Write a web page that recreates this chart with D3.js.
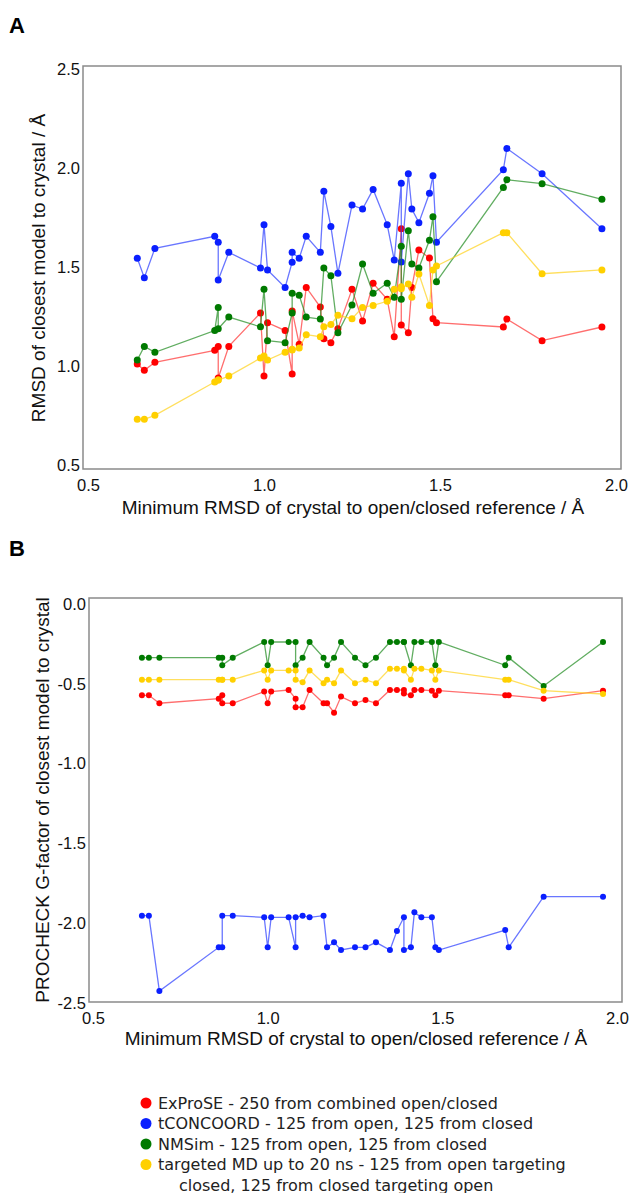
<!DOCTYPE html>
<html>
<head>
<meta charset="utf-8">
<script src="https://cdn.jsdelivr.net/npm/d3@7"></script>
<style>
  body { margin: 0; background: #fff; }
  #container { width: 630px; height: 1193px; }
</style>
</head>
<body>
<div id="container"></div>
<script>
//### DATA ###
//>>> Minimum RMSD of each crystal to the open/closed reference (shared x values)
const crystalRmsd = [ 0.64, 0.66, 0.69, 0.86, 0.87, 0.87, 0.90, 0.99, 1.00, 1.01, 1.06, 1.08, 1.08, 1.10, 1.12, 1.16, 1.17, 1.19,
  1.21, 1.25, 1.28, 1.31, 1.35, 1.37, 1.39, 1.39, 1.41, 1.42, 1.44, 1.47, 1.48, 1.49, 1.68, 1.69, 1.79, 1.96 ];

//>>> Panel A: RMSD of closest model to crystal
const rmsdExprose = [ 1.010, 0.978, 1.019, 1.079, 1.099, 0.939, 1.099, 1.268, 0.949, 1.219, 1.179, 0.960, 1.278, 1.110, 1.397, 1.298, 1.138, 1.118,
  1.188, 1.387, 1.227, 1.418, 1.337, 1.148, 1.693, 1.207, 1.168, 1.397, 1.586, 1.545, 1.239, 1.219, 1.197, 1.237, 1.128, 1.197 ];
const rmsdTconcoord = [ 1.544, 1.446, 1.594, 1.655, 1.625, 1.434, 1.574, 1.495, 1.714, 1.485, 1.397, 1.524, 1.574, 1.544, 1.655, 1.574, 1.882, 1.704,
  1.468, 1.813, 1.793, 1.892, 1.714, 1.535, 1.923, 1.525, 1.971, 1.793, 1.724, 1.872, 1.961, 1.625, 1.991, 2.099, 1.971, 1.693 ];
const rmsdNmsim = [ 1.030, 1.099, 1.069, 1.179, 1.296, 1.188, 1.247, 1.198, 1.387, 1.128, 1.118, 1.268, 1.367, 1.357, 1.247, 1.237, 1.495, 1.456,
  1.168, 1.308, 1.515, 1.367, 1.418, 1.347, 1.605, 1.337, 1.683, 1.515, 1.495, 1.635, 1.754, 1.426, 1.902, 1.941, 1.921, 1.842 ];
const rmsdTargetedMd = [ 0.731, 0.731, 0.751, 0.919, 0.929, 0.929, 0.949, 1.040, 1.050, 1.030, 1.070, 1.081, 1.085, 1.091, 1.158, 1.148, 1.198, 1.209,
  1.256, 1.239, 1.296, 1.306, 1.327, 1.387, 1.400, 1.390, 1.414, 1.347, 1.465, 1.306, 1.485, 1.505, 1.673, 1.673, 1.466, 1.485 ];

//>>> Panel B: PROCHECK G-factor of closest model to crystal
const gExprose = [ -0.572, -0.572, -0.622, -0.593, -0.572, -0.622, -0.622, -0.549, -0.622, -0.549, -0.539, -0.593, -0.647, -0.647, -0.539, -0.622, -0.622, -0.681,
  -0.580, -0.622, -0.601, -0.622, -0.539, -0.539, -0.539, -0.560, -0.572, -0.539, -0.539, -0.543, -0.572, -0.543, -0.572, -0.572, -0.593, -0.543 ];
const gTconcoord = [ -1.953, -1.953, -2.425, -2.151, -2.151, -1.953, -1.953, -1.963, -2.151, -1.963, -1.963, -2.151, -1.963, -1.953, -1.963, -1.953, -2.151, -2.120,
  -2.168, -2.151, -2.151, -2.120, -2.168, -2.049, -1.963, -2.168, -2.151, -1.932, -1.963, -1.963, -2.151, -2.168, -2.043, -2.151, -1.834, -1.834 ];
const gNmsim = [ -0.336, -0.336, -0.336, -0.336, -0.336, -0.384, -0.336, -0.238, -0.384, -0.238, -0.238, -0.238, -0.384, -0.336, -0.238, -0.336, -0.384, -0.336,
  -0.238, -0.336, -0.384, -0.336, -0.238, -0.238, -0.238, -0.238, -0.384, -0.238, -0.238, -0.238, -0.384, -0.238, -0.384, -0.336, -0.514, -0.238 ];
const gTargetedMd = [ -0.474, -0.474, -0.474, -0.474, -0.474, -0.474, -0.474, -0.416, -0.474, -0.416, -0.416, -0.416, -0.474, -0.491, -0.416, -0.497, -0.474, -0.497,
  -0.416, -0.497, -0.474, -0.497, -0.405, -0.405, -0.405, -0.416, -0.474, -0.405, -0.405, -0.416, -0.474, -0.416, -0.474, -0.474, -0.543, -0.564 ];

//>>> Ticks and labels
const xTicks = [ 0.5, 1.0, 1.5, 2.0 ];
const yTicksA = [ 0.5, 1.0, 1.5, 2.0, 2.5 ];
const yTicksB = [ 0.0, -0.5, -1.0, -1.5, -2.0, -2.5 ];
const methodNames = [ 'ExProSE - 250 from combined open/closed', 'tCONCOORD - 125 from open, 125 from closed',
  'NMSim - 125 from open, 125 from closed', 'targeted MD up to 20 ns - 125 from open targeting' ];
const legendExtraLine = 'closed, 125 from closed targeting open';


//_____ STYLING _____
const lineColors = [ '#ff3030', '#2a3cff', '#1e8a1e', '#ffd21a' ];
const dotColors = [ '#ff0000', '#0a1fff', '#007a00', '#ffd000' ];
const plotFont = '"Liberation Sans", Arial, sans-serif';
const legendFont = '"DejaVu Sans", sans-serif';

const svg = d3.select( '#container' )
  .append( 'svg' )
  .attr( 'width', 630 )
  .attr( 'height', 1193 );


//### DRAW ONE PANEL ###
function drawPanel ( panel ) {
  const xScale = d3.scaleLinear().domain( [ 0.5, 2.0 ] ).range( panel.xRange );
  const yScale = d3.scaleLinear().domain( panel.yDomain ).range( panel.yRange );

  //>>> Panel letter
  svg.append( 'text' )
    .attr( 'x', 9 )
    .attr( 'y', panel.letterY )
    .style( 'font-family', plotFont )
    .style( 'font-weight', 'bold' )
    .style( 'font-size', '22px' )
    .text( panel.letter );

  //>>> Frame
  svg.append( 'rect' )
    .attr( 'x', panel.box[ 0 ] )
    .attr( 'y', panel.box[ 1 ] )
    .attr( 'width', panel.box[ 2 ] - panel.box[ 0 ] )
    .attr( 'height', panel.box[ 3 ] - panel.box[ 1 ] )
    .attr( 'fill', 'none' )
    .attr( 'stroke', '#8a8a8a' )
    .attr( 'stroke-width', 1.5 );

  //>>> Axes (labels only, no tick marks)
  const xAxis = svg.append( 'g' )
    .attr( 'transform', `translate( 0, ${panel.box[ 3 ]} )` )
    .call( d3.axisBottom( xScale ).tickValues( xTicks ).tickFormat( d3.format( '.1f' ) ).tickSize( 0 ).tickPadding( 10 ) );
  const yAxis = svg.append( 'g' )
    .attr( 'transform', `translate( ${panel.box[ 0 ]}, 0 )` )
    .call( d3.axisLeft( yScale ).tickValues( panel.yTicks ).tickFormat( d3.format( '.1f' ) ).tickSize( 0 ).tickPadding( 3 ) );

  [ xAxis, yAxis ].forEach( axis => {
    axis.select( '.domain' ).remove();
    axis.selectAll( 'text' )
      .style( 'font-family', plotFont )
      .style( 'font-size', '16.5px' )
      .attr( 'fill', '#111' );
  } );
  yAxis.selectAll( 'text' ).text( d => d3.format( '.1f' )( d ).replace( '−', '-' ) );

  //>>> Axis titles
  svg.append( 'text' )
    .attr( 'x', panel.xTitle[ 0 ] )
    .attr( 'y', panel.xTitle[ 1 ] )
    .attr( 'text-anchor', 'middle' )
    .style( 'font-family', plotFont )
    .style( 'font-size', '19px' )
    .attr( 'fill', '#111' )
    .text( 'Minimum RMSD of crystal to open/closed reference / Å' );

  svg.append( 'text' )
    .attr( 'transform', `translate( ${panel.yTitle[ 0 ]}, ${panel.yTitle[ 1 ]} ) rotate( -90 )` )
    .attr( 'text-anchor', 'middle' )
    .style( 'font-family', plotFont )
    .style( 'font-size', '19px' )
    .attr( 'fill', '#111' )
    .text( panel.yLabel );

  //>>> Series: lines then dots
  const line = d3.line()
    .x( d => xScale( d.x ) )
    .y( d => yScale( d.y ) );

  panel.series.forEach( ( values, i ) => {
    const points = values.map( ( v, j ) => ( { x: crystalRmsd[ j ], y: v } ) );

    svg.append( 'path' )
      .datum( points )
      .attr( 'd', line )
      .attr( 'fill', 'none' )
      .attr( 'stroke', lineColors[ i ] )
      .attr( 'stroke-opacity', 0.7 )
      .attr( 'stroke-width', 1.3 );

    svg.append( 'g' )
      .selectAll( 'circle' )
      .data( points )
      .enter()
      .append( 'circle' )
      .attr( 'cx', d => xScale( d.x ) )
      .attr( 'cy', d => yScale( d.y ) )
      .attr( 'r', panel.radius )
      .attr( 'fill', dotColors[ i ] );
  } );
}


//_____ PANEL A _____
drawPanel( {
  letter: 'A',
  letterY: 33,
  box: [ 83, 66, 621, 469 ],
  xRange: [ 88, 616 ],
  yDomain: [ 0.5, 2.5 ],
  yRange: [ 465, 69 ],
  yTicks: yTicksA,
  xTitle: [ 353, 514 ],
  yTitle: [ 45, 268 ],
  yLabel: 'RMSD of closest model to crystal / Å',
  radius: 3.5,
  series: [ rmsdExprose, rmsdTconcoord, rmsdNmsim, rmsdTargetedMd ]
} );

//_____ PANEL B _____
drawPanel( {
  letter: 'B',
  letterY: 556,
  box: [ 89, 598, 622, 1002 ],
  xRange: [ 93, 617 ],
  yDomain: [ 0, -2.5 ],
  yRange: [ 604, 1003 ],
  yTicks: yTicksB,
  xTitle: [ 356, 1045 ],
  yTitle: [ 49, 800 ],
  yLabel: 'PROCHECK G-factor of closest model to crystal',
  radius: 3,
  series: [ gExprose, gTconcoord, gNmsim, gTargetedMd ]
} );


//_____ LEGEND _____
const legend = svg.append( 'g' )
  .attr( 'transform', 'translate( 146, 1103 )' );

const legendItems = legend.selectAll( 'g' )
  .data( methodNames )
  .enter()
  .append( 'g' )
  .attr( 'transform', ( d, i ) => `translate( 0, ${i * 20.5} )` );

legendItems.append( 'circle' )
  .attr( 'r', 5.5 )
  .attr( 'fill', ( d, i ) => dotColors[ i ] );

legendItems.append( 'text' )
  .attr( 'x', 12 )
  .attr( 'y', 5.5 )
  .style( 'font-family', legendFont )
  .style( 'font-size', '16px' )
  .attr( 'fill', '#222' )
  .text( d => d );

legend.append( 'text' )
  .attr( 'x', 33 )
  .attr( 'y', 4 * 20.5 + 5.5 )
  .style( 'font-family', legendFont )
  .style( 'font-size', '16px' )
  .attr( 'fill', '#222' )
  .text( legendExtraLine );
</script>
</body>
</html>
